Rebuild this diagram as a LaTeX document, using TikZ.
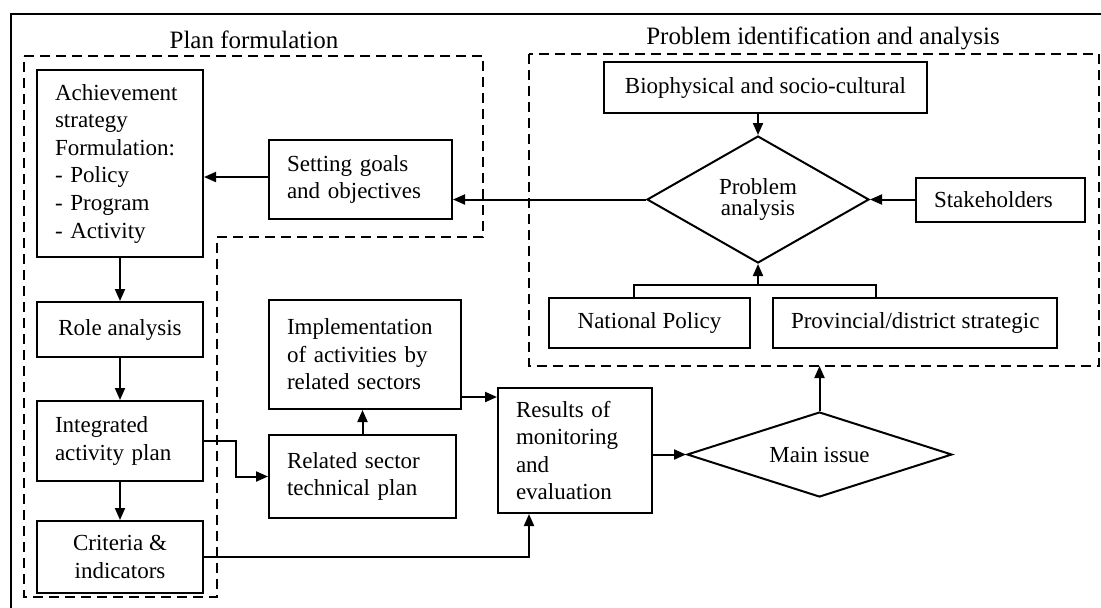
\documentclass[tikz,border=0pt]{standalone}
\usepackage{fontspec}
\setmainfont{Liberation Serif}
\usepackage{tikz}
\usetikzlibrary{shapes.geometric, arrows.meta, positioning, calc}
\newcommand{\diagfont}{\fontsize{11.5}{13.8}\selectfont}
\newcommand{\grouptitlefont}{\fontsize{12.5}{15}\selectfont}
\tikzset{
    flowbox/.style={rectangle, draw=black, line width=1pt, inner xsep=9pt, inner ysep=2pt, font=\diagfont},
    decision/.style={diamond, draw=black, line width=1pt, inner sep=0pt, align=center, font=\diagfont},
    groupline/.style={line width=1pt, dash pattern=on 5pt off 3pt},
    arrow/.style={-{Triangle[length=6pt, width=5pt]}, line width=1pt},
    link/.style={line width=1pt},
}

\begin{document}
\begin{tikzpicture}[
    x=0.5pt, y=-0.5pt,
    leftbox/.style={flowbox, align=left, text width=#1},
    midbox/.style={flowbox, align=center, minimum width=#1},
    grouptitle/.style={font=\grouptitlefont}
]
\useasboundingbox (0,0) rectangle (1101,607);

% Outer frame
\draw[link] (11,14) rectangle (1120,630);

% Plan formulation column
\node[leftbox=65pt, minimum height=93.5pt] at (120,163.5) (strategy) {Achievement\\strategy\\Formulation:\\- Policy\\- Program\\- Activity};
\node[midbox=83pt, minimum height=27.5pt, below=21.5pt of strategy] (role) {Role analysis};
\node[leftbox=65pt, minimum height=40pt, below=21pt of role] (integrated) {Integrated\\activity plan};
\node[midbox=83pt, minimum height=36pt, below=19pt of integrated] (criteria) {Criteria \&\\indicators};
\node[leftbox=73.5pt, minimum height=39.5pt] at (360.5,179.5) (goals) {Setting goals\\and objectives};

% Implementation and monitoring
\node[leftbox=78pt, minimum height=54.5pt] at (365,354.5) (implement) {Implementation\\of activities by\\related sectors};
\node[leftbox=75.5pt, minimum height=41.5pt] at (362.5,476.5) (sector-plan) {Related sector\\technical plan};
\node[leftbox=59pt, minimum height=62.5pt] at (575,450.5) (monitoring) {Results of\\monitoring\\and\\evaluation};
\node[decision, minimum width=132.5pt, minimum height=42.5pt, shape aspect=3] at (819.5,454.5) (main-issue) {Main issue};

% Problem identification and analysis
\node[midbox=161.5pt, minimum height=25.5pt] at (765.5,87.5) (biophys) {Biophysical and socio-cultural};
\node[decision, minimum width=111pt, minimum height=63.5pt, shape aspect=1.75, font=\fontsize{11.5}{10.5}\selectfont] at (758,199.5) (prob-analysis) {Problem\\analysis};
\node[leftbox=66.5pt, minimum height=22pt, right=22.5pt of prob-analysis] (stakeholders) {Stakeholders};
\node[midbox=100.5pt, minimum height=25pt] at (649.5,323) (nat-policy) {National Policy};
\node[midbox=142pt, minimum height=25pt, right=10.5pt of nat-policy] (prov-policy) {Provincial/district strategic};

% Group frames and titles
\draw[groupline] (24,56) -- (483,56) -- (483,237) -- (217,237) -- (217,597) -- (24,597) -- cycle;
\coordinate (pia-nw) at (529,54);
\coordinate (pia-se) at (1099,366);
\draw[groupline] (pia-nw) rectangle (pia-se);
\node[grouptitle] at (254,40) (plan-title) {Plan formulation};
\node[grouptitle] at (823,38) (prob-title) {Problem identification and analysis};

% Arrows in plan formulation
\draw[arrow] (strategy.south) -- (role.north);
\draw[arrow] (role.south) -- (integrated.north);
\draw[arrow] (integrated.south) -- (criteria.north);
\draw[arrow] ([yshift=1.25pt]goals.west) -- ([yshift=1.25pt]goals.west -| strategy.east);

% Arrows in problem analysis
\draw[arrow] (biophys.south -| prob-analysis.north) -- (prob-analysis.north);
\draw[arrow] (stakeholders.west) -- (prob-analysis.east);
\draw[arrow] (prob-analysis.west) -- (prob-analysis.west -| goals.east);
\coordinate (brk-l) at ([xshift=-7.75pt]nat-policy.north);
\coordinate (brk-r) at ([xshift=-19.5pt]prov-policy.north);
\coordinate (brk-top) at ([yshift=6pt]brk-l);
\draw[link] (brk-l) -- (brk-top) -- (brk-top -| brk-r) -- (brk-r);
\draw[arrow] (brk-top -| prob-analysis.south) -- (prob-analysis.south);

% Implementation and feedback
\coordinate (bend) at ($(integrated.east)!0.5!(sector-plan.west)$);
\draw[arrow] (integrated.east) -| (bend |- sector-plan.west) -- (sector-plan.west);
\draw[arrow] (sector-plan.north) -- (sector-plan.north |- implement.south);
\coordinate (impl-out) at ([yshift=-21.25pt]implement.east);
\draw[arrow] (impl-out) -- (impl-out -| monitoring.west);
\draw[arrow] (criteria.east) -| ([xshift=16pt]monitoring.south west);
\draw[arrow] (monitoring.east |- main-issue.west) -- (main-issue.west);
\draw[arrow] (main-issue.north) -- (main-issue.north |- pia-se);

\end{tikzpicture}
\end{document}
